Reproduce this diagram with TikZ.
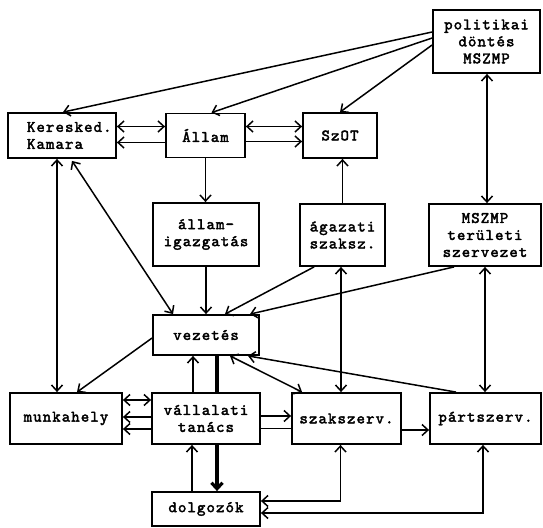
\documentclass[tikz,border=0pt]{standalone}
\usepackage{fontspec}
\newfontfamily\twfont{lmmono10-regular.otf}[LetterSpace=7,FakeBold=2.5]
\usetikzlibrary{arrows.meta}
\begin{document}
\begin{tikzpicture}[x=1pt,y=-1pt,
  box/.style={draw,line width=1.8pt,rectangle,inner sep=0pt,
    font=\twfont\fontsize{16}{17}\selectfont,align=center},
  conn/.style={line width=1.5pt},
  heavy/.style={line width=3.2pt},
  fw/.style={-{Straight Barb[length=6pt,width=11pt]}},
  bw/.style={{Straight Barb[length=6pt,width=11pt]}-},
  bi/.style={{Straight Barb[length=6pt,width=11pt]}-{Straight Barb[length=6pt,width=11pt]}}
]
\useasboundingbox (0,0) rectangle (543,527);

% boxes
\node[box,minimum width=107pt,minimum height=63pt] (pol) at (486.5,41.5) {politikai\\döntés\\MSZMP};
\node[box,minimum width=108pt,minimum height=45pt,text width=70pt,align=left] (kam) at (62,135.5) {Keresked.\\Kamara};
\node[box,minimum width=79pt,minimum height=44pt] (allam) at (205.5,135.5) {Állam};
\node[box,minimum width=74pt,minimum height=45pt] (szot) at (340,135.5) {SzOT};
\node[box,minimum width=106pt,minimum height=63pt] (aig) at (206,234.5) {állam-\\igazgatás};
\node[box,minimum width=85pt,minimum height=62pt] (aga) at (342.5,235) {ágazati\\szaksz.};
\node[box,minimum width=112pt,minimum height=62pt] (ter) at (485,235) {MSZMP\\területi\\szervezet};
\node[box,minimum width=106pt,minimum height=40pt] (vez) at (206,335) {vezetés};
\node[box,minimum width=112pt,minimum height=51pt] (munk) at (66,418.5) {munkahely};
\node[box,minimum width=108pt,minimum height=51pt] (vt) at (206,418.5) {vállalati\\tanács};
\node[box,minimum width=109pt,minimum height=51pt] (szak) at (346.5,418.5) {szakszerv.};
\node[box,minimum width=111pt,minimum height=51pt] (part) at (485.5,418.5) {pártszerv.};
\node[box,minimum width=108pt,minimum height=34pt] (dolg) at (206,509) {dolgozók};

% from politikai döntés
\draw[conn,fw] ([yshift=9.5pt]pol.west) -- ([xshift=1pt]kam.north);
\draw[conn,fw] ([yshift=3.5pt]pol.west) -- ([xshift=6pt]allam.north);
\draw[conn,fw] ([yshift=-3.5pt]pol.west) -- (szot.north);
\draw[conn,bi] ([xshift=0.5pt]pol.south) -- ([xshift=0.5pt]pol.south |- ter.north);

% top row horizontals
\draw[conn,bi] ([yshift=9pt]allam.west) -- ([yshift=9pt]allam.west -| kam.east);
\draw[conn,fw] ([yshift=-7pt]allam.west) -- ([yshift=-7pt]allam.west -| kam.east);
\draw[conn,bi] ([yshift=9pt]allam.east) -- ([yshift=9pt]allam.east -| szot.west);
\draw[conn,fw] ([yshift=-6pt]allam.east) -- ([yshift=-6pt]allam.east -| szot.west);

% middle
\draw[conn,fw] (allam.south) -- (allam.south |- aig.north);
\draw[conn,fw] (aig.south) -- (aig.south |- vez.north);
\draw[conn,fw] (aga.north) -- (aga.north |- szot.south);
\draw[conn,fw] ([xshift=15pt]aga.south west) -- ([xshift=19pt]vez.north);
\draw[conn,fw] ([xshift=26pt]ter.south west) -- ([xshift=44pt]vez.north);
\draw[conn,bi] ([xshift=-5pt]kam.south) -- ([xshift=-5pt]kam.south |- munk.north);
\draw[conn,bi] ([xshift=10pt,yshift=-2pt]kam.south) -- ([xshift=-33pt]vez.north);
\draw[conn,fw] ([yshift=-3pt]vez.west) -- ([xshift=11pt]munk.north);
\draw[conn,bi] ([xshift=-1.5pt]aga.south) -- ([xshift=-1.5pt]aga.south |- szak.north);
\draw[conn,bi] (ter.south) -- (ter.south |- part.north);
\draw[conn,bi] ([xshift=24pt]vez.south) -- ([xshift=11pt]szak.north west);
\draw[conn,fw] ([xshift=27pt]part.north west) -- ([xshift=42pt]vez.south);

% vállalati tanács
\draw[conn,fw] ([xshift=-13pt]vt.north) -- ([xshift=-13pt]vt.north |- vez.south);
\draw[heavy] ([xshift=11pt]vt.north) -- ([xshift=11pt]vt.north |- vez.south);
\draw[conn,bi] ([yshift=18.5pt]vt.west) -- ([yshift=18.5pt]vt.west -| munk.east);
\draw[conn,fw] ([yshift=1.5pt]vt.west) -- ([yshift=1.5pt]vt.west -| munk.east);
\draw[conn,fw] ([yshift=-10.5pt]vt.west) -- ([yshift=-10.5pt]vt.west -| munk.east);
\draw[conn,fw] ([yshift=2.5pt]vt.east) -- ([yshift=2.5pt]vt.east -| szak.west);
\draw[conn] ([yshift=-10pt]vt.east) -- ([yshift=-10pt]vt.east -| szak.west);
\draw[conn,fw] ([yshift=-11.5pt]szak.east) -- ([yshift=-11.5pt]szak.east -| part.west);

% dolgozók
\draw[conn,fw] ([xshift=-14pt]dolg.north) -- ([xshift=-14pt]dolg.north |- vt.south);
\draw[heavy,fw] ([xshift=11pt]vt.south) -- ([xshift=11pt]vt.south |- dolg.north);
\draw[conn,bi] ([yshift=8pt]dolg.east) -| ([xshift=-6pt]szak.south);
\draw[conn,bi] ([yshift=-4pt]dolg.east) -| ([xshift=-2.5pt]part.south);
\end{tikzpicture}
\end{document}
